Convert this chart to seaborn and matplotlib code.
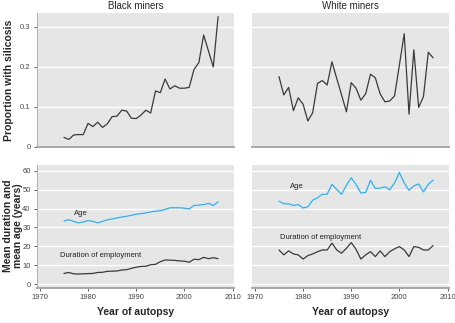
import numpy as np
import pandas as pd
import matplotlib
matplotlib.use("Agg")
import matplotlib.pyplot as plt
import seaborn as sns

# years of autopsy
years = list(range(1975, 2008))

# proportion with silicosis
black_silicosis = [0.024, 0.019, 0.030, 0.031, 0.031, 0.059, 0.051, 0.062, 0.049, 0.058,
                   0.076, 0.077, 0.092, 0.090, 0.072, 0.071, 0.080, 0.092, 0.085, 0.140,
                   0.136, 0.170, 0.145, 0.153, 0.147, 0.147, 0.149, 0.194, 0.211, 0.280,
                   0.240, 0.200, 0.326]
white_silicosis = [0.176, 0.130, 0.149, 0.091, 0.123, 0.107, 0.065, 0.086, 0.159, 0.166,
                   0.155, 0.213, 0.171, 0.130, 0.088, 0.161, 0.147, 0.117, 0.133, 0.182,
                   0.173, 0.133, 0.113, 0.115, 0.128, 0.205, 0.283, 0.082, 0.243, 0.099,
                   0.126, 0.237, 0.223]

# mean age and duration of employment (years)
black_age = [33.4, 34.1, 33.2, 32.4, 32.9, 33.6, 33.2, 32.4, 33.2, 34.0,
             34.5, 35.0, 35.5, 35.9, 36.4, 37.0, 37.3, 37.7, 38.2, 38.6,
             38.8, 39.5, 40.4, 40.4, 40.4, 40.2, 39.8, 41.6, 41.8, 42.1,
             42.7, 41.6, 43.5]
black_duration = [5.7, 6.2, 5.5, 5.4, 5.5, 5.6, 5.7, 6.2, 6.3, 6.8,
                  6.9, 7.0, 7.5, 7.7, 8.4, 9.0, 9.4, 9.5, 10.3, 10.5,
                  11.9, 12.8, 12.7, 12.6, 12.3, 12.2, 11.6, 13.2, 13.0, 14.2,
                  13.5, 14.0, 13.5]
white_age = [43.9, 42.5, 42.5, 41.6, 42.1, 40.3, 40.9, 44.4, 45.7, 47.5,
             47.5, 52.8, 50.1, 47.5, 52.3, 56.2, 52.8, 48.2, 48.5, 54.9,
             50.6, 50.8, 51.5, 50.0, 53.5, 59.0, 53.5, 49.7, 51.9, 53.0,
             48.8, 52.8, 55.0]
white_duration = [18.1, 15.5, 17.6, 16.0, 15.5, 13.3, 15.1, 16.0, 17.2, 18.1,
                  18.1, 21.7, 18.1, 16.4, 19.0, 22.0, 18.5, 13.3, 15.5, 17.2,
                  14.6, 17.6, 14.6, 17.2, 18.7, 19.9, 18.1, 14.6, 19.9, 19.5,
                  18.1, 18.1, 20.4]

panel_titles = ["Black miners", "White miners"]

sns.set_style("darkgrid", {"axes.facecolor": "#e6e6e6", "grid.color": "white"})
plt.rcParams["font.family"] = ["Liberation Sans Narrow", "Liberation Sans", "DejaVu Sans"]

fig = plt.figure(figsize=(4.56, 3.23), dpi=100)
W, H = 456.0, 323.0
lefts = [37, 252]
aw = 197
top_axes = [fig.add_axes([l / W, 1 - 147 / H, aw / W, 134 / H]) for l in lefts]
bot_axes = [fig.add_axes([l / W, 1 - 288 / H, aw / W, 123 / H]) for l in lefts]

line_col = "#3a3a3a"
age_col = "#3da3d4"
halo_col = "#d3eaf5"
xlim = (1969.4, 2010.3)

sil = [black_silicosis, white_silicosis]
ages = [black_age, white_age]
durs = [black_duration, white_duration]

for i in range(2):
    df = pd.DataFrame({"year": years, "silicosis": sil[i],
                       "age": ages[i], "duration": durs[i]})

    ax = top_axes[i]
    sns.lineplot(data=df, x="year", y="silicosis", ax=ax, color=line_col, lw=0.9)
    ax.set_xlim(*xlim)
    ax.set_ylim(0, 0.335)
    ax.set_yticks([0, 0.1, 0.2, 0.3])
    ax.set_yticklabels(["0", "0.1", "0.2", "0.3"])
    ax.set_xticks([])
    ax.set_title(panel_titles[i], fontsize=7, pad=3)

    bx = bot_axes[i]
    sns.lineplot(data=df, x="year", y="age", ax=bx, color=halo_col, lw=2.6)
    sns.lineplot(data=df, x="year", y="age", ax=bx, color=age_col, lw=0.8)
    sns.lineplot(data=df, x="year", y="duration", ax=bx, color=line_col, lw=0.9)
    bx.set_xlim(*xlim)
    bx.set_ylim(-2, 63)
    bx.set_yticks([0, 10, 20, 30, 40, 50, 60])
    bx.set_xticks([1970, 1980, 1990, 2000, 2010])
    bx.set_xlabel("Year of autopsy", fontsize=7.5, fontweight="bold", labelpad=4)

    for a in (ax, bx):
        a.set_ylabel("")
        a.grid(axis="x", visible=False)
        a.grid(axis="y", color="white", lw=1)
        for s in a.spines.values():
            s.set_visible(False)
        a.spines["bottom"].set_visible(True)
        a.spines["bottom"].set_color("#a8a8a8")
        a.spines["bottom"].set_linewidth(1.4)
        a.tick_params(axis="both", labelsize=5.5, colors="#444444", length=2.5,
                      width=0.6, pad=2)
        if i == 0:
            a.spines["left"].set_visible(True)
            a.spines["left"].set_color("#a8a8a8")
            a.spines["left"].set_linewidth(0.6)
            a.tick_params(axis="y", left=True)
        else:
            a.set_yticklabels([])
            a.tick_params(axis="y", left=False)
    ax.set_xlabel("")
    bx.tick_params(axis="x", bottom=True)

# y-axis titles, placed in figure pixels
fig.text(9 / W, 1 - 80 / H, "Proportion with silicosis", rotation=90, ha="center",
         va="center", fontsize=7.5, fontweight="bold")
fig.text(13 / W, 1 - 226 / H, "Mean duration and\nmean age (years)", rotation=90,
         ha="center", va="center", fontsize=7.5, fontweight="bold", linespacing=1.0)

# in-panel labels
bot_axes[0].text(1977.0, 36.5, "Age", fontsize=5.5, color="#222222")
bot_axes[0].text(1974.1, 14.5, "Duration of employment", fontsize=5.5, color="#222222")
bot_axes[1].text(1977.3, 51.0, "Age", fontsize=5.5, color="#222222")
bot_axes[1].text(1975.2, 24.0, "Duration of employment", fontsize=5.5, color="#222222")

fig.savefig("out.png", dpi=100)
